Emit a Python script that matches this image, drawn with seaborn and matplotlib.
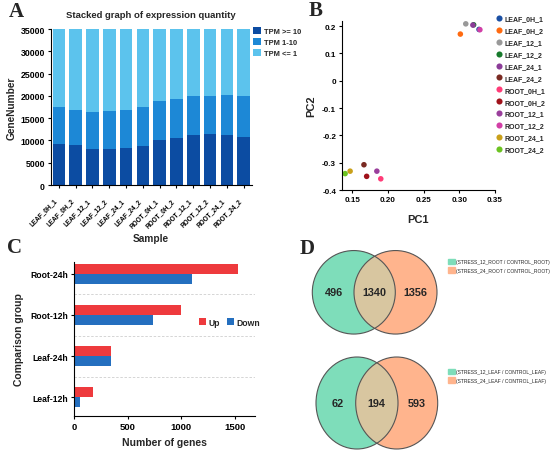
import numpy as np
import pandas as pd
import matplotlib
matplotlib.use("Agg")
import matplotlib.pyplot as plt
import seaborn as sns
from matplotlib.patches import Ellipse, Patch

# ---- panel A: stacked expression counts ----
samples = ["LEAF_0H_1", "LEAF_0H_2", "LEAF_12_1", "LEAF_12_2", "LEAF_24_1", "LEAF_24_2",
           "ROOT_0H_1", "ROOT_0H_2", "ROOT_12_1", "ROOT_12_2", "ROOT_24_1", "ROOT_24_2"]
tpm_high = [9200, 8950, 8050, 8050, 8300, 8850, 10000, 10600, 11150, 11400, 11200, 10850]
tpm_mid = [8200, 7850, 8400, 8650, 8600, 8750, 8850, 8700, 8850, 8600, 9000, 9050]
tpm_low = [17600, 18200, 18550, 18300, 18100, 17400, 16150, 15700, 15000, 15000, 14800, 15100]

# ---- panel B: PCA ----
pc1 = [0.3276, 0.3014, 0.3090, 0.3200, 0.3190, 0.1662,
       0.1898, 0.1700, 0.1843, 0.3288, 0.1468, 0.1398]
pc2 = [0.1880, 0.1710, 0.2085, 0.2050, 0.2040, -0.3075,
       -0.3590, -0.3500, -0.3310, 0.1870, -0.3310, -0.3400]
pca_colors = ["#1A4FA3", "#FF6A10", "#999999", "#177A2C", "#8B3C98", "#7A2A22",
              "#FF3C78", "#A0121A", "#9A3F9C", "#D23FA6", "#C9A01A", "#6CC322"]

# ---- panel C: DEG counts ----
groups = ["Root-24h", "Root-12h", "Leaf-24h", "Leaf-12h"]
up_counts = [1535, 1000, 350, 175]
down_counts = [1105, 735, 345, 60]

# ---- panel D: Venn counts (left only, shared, right only) ----
venn_root = [496, 1340, 1356]
venn_leaf = [62, 194, 593]
venn_root_names = ["(STRESS_12_ROOT / CONTROL_ROOT)", "(STRESS_24_ROOT / CONTROL_ROOT)"]
venn_leaf_names = ["(STRESS_12_LEAF / CONTROL_LEAF)", "(STRESS_24_LEAF / CONTROL_LEAF)"]

C_DARK, C_MID, C_LIGHT = "#0C4CA2", "#1D88D6", "#5CC3ED"
C_UP, C_DOWN = "#EE3A3D", "#246FBF"
V_GREEN, V_ORANGE, V_MIX = "#7EDDBA", "#FFB48D", "#D8C6A0"

sns.set_theme(style="ticks")
plt.rcParams["font.family"] = ["Liberation Sans", "DejaVu Sans"]
plt.rcParams["font.weight"] = "bold"
plt.rcParams["axes.labelweight"] = "bold"
plt.rcParams["axes.titleweight"] = "bold"
plt.rcParams["axes.linewidth"] = 0.8
plt.rcParams["axes.edgecolor"] = "black"
plt.rcParams["xtick.color"] = "black"
plt.rcParams["ytick.color"] = "black"

W, H = 550, 456
fig = plt.figure(figsize=(W / 100, H / 100), dpi=100)


def px_axes(left, top, right, bottom, **kw):
    return fig.add_axes([left / W, 1 - bottom / H, (right - left) / W, (bottom - top) / H], **kw)


# overlay in pixel coords for the venn diagrams
ax_d = px_axes(0, 0, W, H)
ax_d.set_xlim(0, W)
ax_d.set_ylim(H, 0)
ax_d.axis("off")

ax_a = px_axes(50.5, 30, 252, 186)
ax_b = px_axes(341.7, 21.7, 495, 191)
ax_c = px_axes(74, 263, 255, 417)

# ---- A ----
df_a = pd.DataFrame({"Sample": samples, "high": tpm_high, "mid": tpm_mid, "low": tpm_low})
df_a["upto_mid"] = df_a["high"] + df_a["mid"]
df_a["total"] = df_a["upto_mid"] + df_a["low"]
sns.barplot(data=df_a, x="Sample", y="total", color=C_LIGHT, saturation=1, width=0.75,
            linewidth=0, ax=ax_a, label="TPM <= 1")
sns.barplot(data=df_a, x="Sample", y="upto_mid", color=C_MID, saturation=1, width=0.75,
            linewidth=0, ax=ax_a, label="TPM 1-10")
sns.barplot(data=df_a, x="Sample", y="high", color=C_DARK, saturation=1, width=0.75,
            linewidth=0, ax=ax_a, label="TPM >= 10")
ax_a.set_xlim(-0.5, len(samples) - 0.5)
ax_a.set_ylim(0, 35000)
ax_a.set_yticks(np.arange(0, 35001, 5000))
ax_a.tick_params(axis="y", labelsize=6.3, length=2.5, width=0.8, pad=1.5)
ax_a.tick_params(axis="x", labelsize=4.7, length=2.5, width=0.8, pad=6)
plt.setp(ax_a.get_xticklabels(), rotation=45, ha="right")
ax_a.set_xlabel("Sample", fontsize=7.3, labelpad=3)
ax_a.set_ylabel("GeneNumber", fontsize=7.3, labelpad=3)
ax_a.set_title("Stacked graph of expression quantity", fontsize=6.8, pad=9)
h, l = ax_a.get_legend_handles_labels()
ax_a.legend(h[::-1], l[::-1], loc="upper left", bbox_to_anchor=(1.005, 1.01), frameon=False,
            fontsize=5.4, handlelength=1.0, handleheight=1.0, handletextpad=0.4,
            labelspacing=0.4, borderpad=0, borderaxespad=0)
sns.despine(ax=ax_a)

# ---- B ----
df_b = pd.DataFrame({"Sample": samples, "PC1": pc1, "PC2": pc2})
sns.scatterplot(data=df_b, x="PC1", y="PC2", hue="Sample", hue_order=samples,
                palette=dict(zip(samples, pca_colors)), s=16, linewidth=0, ax=ax_b)
ax_b.set_xlim(0.135, 0.35)
ax_b.set_ylim(-0.4, 0.22)
ax_b.set_xticks([0.15, 0.20, 0.25, 0.30, 0.35])
ax_b.set_xticklabels(["0.15", "0.20", "0.25", "0.30", "0.35"])
ax_b.set_yticks([-0.4, -0.3, -0.2, -0.1, 0, 0.1, 0.2])
ax_b.set_yticklabels(["-0.4", "-0.3", "-0.2", "-0.1", "0", "0.1", "0.2"])
ax_b.tick_params(labelsize=5.8, length=2.5, width=0.8, pad=1.5)
ax_b.set_xlabel("PC1", fontsize=8, labelpad=8)
ax_b.set_ylabel("PC2", fontsize=8, labelpad=4)
ax_b.legend(loc="upper left", bbox_to_anchor=(1.01, 1.03), frameon=False, fontsize=5.0,
            handlelength=0.8, handletextpad=0.35, labelspacing=0.7, borderpad=0,
            borderaxespad=0, markerscale=1.1)
sns.despine(ax=ax_b)

# ---- C ----
df_c = pd.DataFrame({
    "Group": groups * 2,
    "Count": up_counts + down_counts,
    "Direction": ["Up"] * len(groups) + ["Down"] * len(groups),
})
sns.barplot(data=df_c, y="Group", x="Count", hue="Direction", hue_order=["Up", "Down"],
            order=groups, palette={"Up": C_UP, "Down": C_DOWN}, orient="h", width=0.5,
            saturation=1, linewidth=0, ax=ax_c)
for i in range(len(groups) - 1):
    ax_c.axhline(i + 0.5, color="#cfcfcf", lw=0.6, ls=(0, (3, 2)), zorder=0)
ax_c.set_ylim(len(groups) - 0.54, -0.29)
ax_c.set_xlim(0, 1690)
ax_c.set_xticks([0, 500, 1000, 1500])
ax_c.tick_params(axis="x", labelsize=6.8, length=2.5, width=0.8, pad=2)
ax_c.tick_params(axis="y", labelsize=6.2, length=2.5, width=0.8, pad=1.5)
ax_c.set_xlabel("Number of genes", fontsize=7.5, labelpad=4)
ax_c.set_ylabel("Comparison group", fontsize=7.5, labelpad=5)
ax_c.legend(loc="center left", bbox_to_anchor=(0.69, 0.61), ncol=2, frameon=False,
            fontsize=6.2, handlelength=0.8, handleheight=0.8, handletextpad=0.3,
            columnspacing=0.8, borderpad=0, borderaxespad=0)
sns.despine(ax=ax_c)


# ---- D ----
def draw_venn(ax, cxl, cxr, cy, w, h, counts):
    left = Ellipse((cxl, cy), w, h, facecolor=V_GREEN, edgecolor="none")
    right = Ellipse((cxr, cy), w, h, facecolor=V_ORANGE, edgecolor="none")
    ax.add_patch(left)
    ax.add_patch(right)
    mix = Ellipse((cxl, cy), w, h, facecolor=V_MIX, edgecolor="none")
    ax.add_patch(mix)
    mix.set_clip_path(right)
    for cx in (cxl, cxr):
        ax.add_patch(Ellipse((cx, cy), w, h, fill=False, edgecolor="#555555", lw=0.8))
    xs = [cxl - 19.5, (cxl + cxr) / 2, cxr + 20]
    for x, n in zip(xs, counts):
        ax.text(x, cy, str(n), ha="center", va="center", fontsize=7.8, fontweight="bold")


draw_venn(ax_d, 353.8, 395.5, 293.3, 83, 83.5, venn_root)
draw_venn(ax_d, 357, 396.7, 404, 82, 92, venn_leaf)

leg_kw = dict(loc="upper left", frameon=False, handlelength=1.3, handleheight=1.3,
              handletextpad=0.4, labelspacing=0.55, borderpad=0, borderaxespad=0,
              prop={"size": 3.6, "weight": "normal"}, bbox_transform=ax_d.transData)
leg1 = ax_d.legend([Patch(color=V_GREEN), Patch(color=V_ORANGE)], venn_root_names,
                   bbox_to_anchor=(448, 260), **leg_kw)
ax_d.add_artist(leg1)
ax_d.legend([Patch(color=V_GREEN), Patch(color=V_ORANGE)], venn_leaf_names,
            bbox_to_anchor=(448, 370), **leg_kw)

# panel letters
for letter, x, y in [("A", 16, 12), ("B", 316, 10.5), ("C", 14, 248.5), ("D", 307.5, 249.5)]:
    fig.text(x / W, 1 - y / H, letter, family="Liberation Serif", fontweight="bold",
             fontsize=15, ha="center", va="center")

fig.savefig("out.png", dpi=100)
